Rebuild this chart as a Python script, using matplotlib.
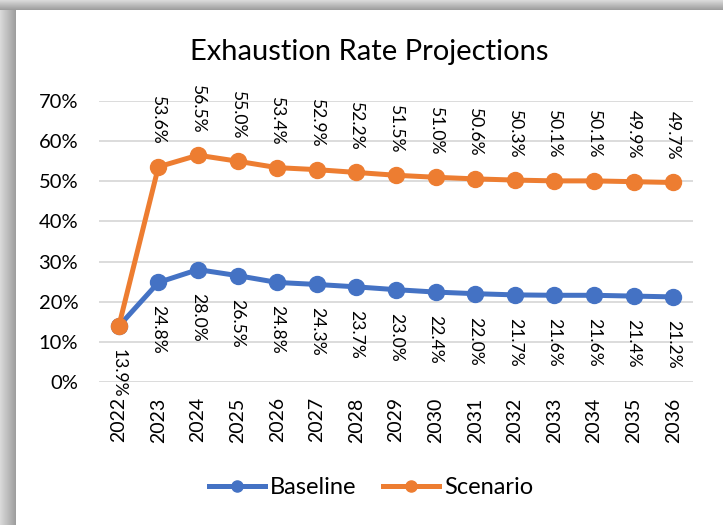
import matplotlib.pyplot as plt
import numpy as np

plt.rcParams['font.family'] = ['Lato', 'DejaVu Sans']

years = ['2022', '2023', '2024', '2025', '2026', '2027', '2028', '2029',
         '2030', '2031', '2032', '2033', '2034', '2035', '2036']
baseline = [13.9, 24.8, 28.0, 26.5, 24.8, 24.3, 23.7, 23.0, 22.4, 22.0, 21.7, 21.6, 21.6, 21.4, 21.2]
scenario = [13.9, 53.6, 56.5, 55.0, 53.4, 52.9, 52.2, 51.5, 51.0, 50.6, 50.3, 50.1, 50.1, 49.9, 49.7]

blue = '#4472C4'
orange = '#ED7D31'

W, H = 723, 525
fig = plt.figure(figsize=(W / 100, H / 100), dpi=100)

# shadow strips on top and left edge
grad_top = np.linspace(0.85, 0.62, 10).reshape(-1, 1)
ax_t = fig.add_axes([0, 1 - 10 / H, 1, 10 / H])
ax_t.imshow(np.repeat(grad_top, 10, axis=1), cmap='gray', vmin=0, vmax=1, aspect='auto')
ax_t.axis('off')
grad_left = np.linspace(0.85, 0.62, 16).reshape(1, -1)
ax_l = fig.add_axes([0, 0, 16 / W, 1 - 10 / H])
ax_l.imshow(np.repeat(grad_left, 10, axis=0), cmap='gray', vmin=0, vmax=1, aspect='auto')
ax_l.axis('off')

ax = fig.add_axes([99 / W, 1 - 382 / H, 594 / W, 281 / H])
x = np.arange(len(years))

ax.plot(x, baseline, color=blue, lw=3.6, marker='o', ms=11.5, label='Baseline', zorder=3)
ax.plot(x, scenario, color=orange, lw=3.6, marker='o', ms=11.5, label='Scenario', zorder=3)

for i in range(len(years)):
    ax.annotate(f'{baseline[i]:.1f}%', (x[i], baseline[i]), xytext=(0, -16.5),
                textcoords='offset points', rotation=270, ha='center', va='top',
                fontsize=12.6, color='#000000', annotation_clip=False)
    if i > 0:
        ax.annotate(f'{scenario[i]:.1f}%', (x[i], scenario[i]), xytext=(0, 16.5),
                    textcoords='offset points', rotation=270, ha='center', va='bottom',
                    fontsize=12.6, color='#000000', annotation_clip=False)

ax.set_xlim(-0.5, len(years) - 0.5)
ax.set_ylim(0, 70)
ax.set_yticks(range(0, 71, 10))
ax.set_yticklabels([f'{v}%' for v in range(0, 71, 10)], fontsize=14.5)
ax.set_xticks(x)
ax.set_xticklabels(years, rotation=90, fontsize=14)
ax.tick_params(axis='y', length=0, pad=15)
ax.tick_params(axis='x', length=0, pad=11)
ax.grid(axis='y', color='#D9D9D9', lw=1.3)
ax.set_axisbelow(True)
for s in ax.spines.values():
    s.set_visible(False)

fig.text(369 / W, 1 - 52 / H, 'Exhaustion Rate Projections', ha='center', va='center', fontsize=21)

leg = fig.legend(loc='center', bbox_to_anchor=(371 / W, 1 - 488 / H), ncol=2, frameon=False,
                 fontsize=17, handlelength=2.4, columnspacing=1.1, handletextpad=0.2)
for h in leg.legend_handles:
    h.set_markersize(8)

fig.savefig('out.png', dpi=100)
